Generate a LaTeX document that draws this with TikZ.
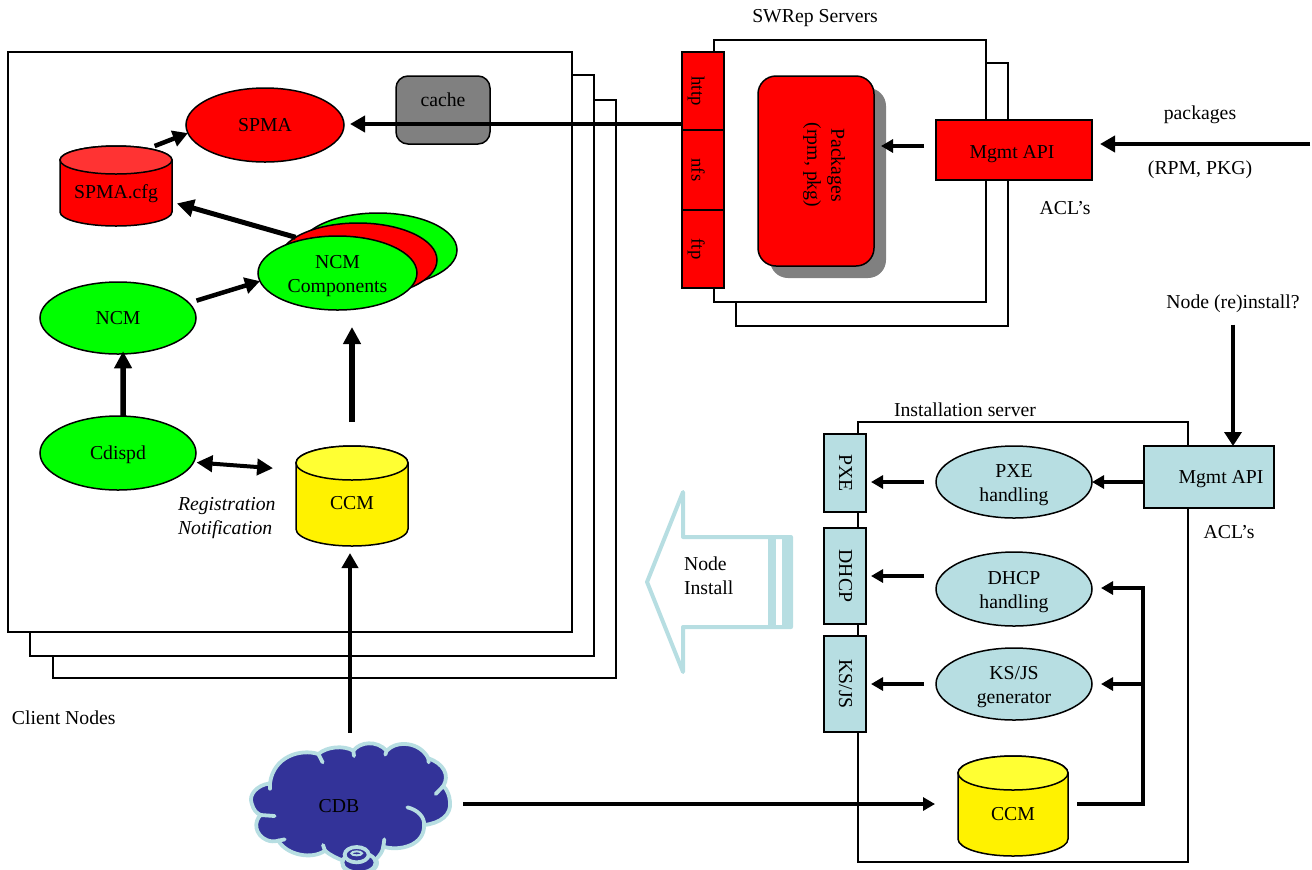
\documentclass[tikz,border=0pt]{standalone}
\usepackage{fontspec}
\setmainfont{Liberation Serif}
\usetikzlibrary{positioning, arrows.meta, calc, shapes.geometric, shadows}

\definecolor{iceblue}{HTML}{B7DEE2}
\definecolor{clouddark}{HTML}{333399}
\definecolor{cfgtop}{HTML}{FF3333}
\definecolor{cantop}{HTML}{FFFF33}

\def\raster{0.75pt}

\tikzset{
    every node/.style={font=\fontsize{14.8pt}{18pt}\selectfont, outer sep=0pt, inner sep=0pt,
        text height=11.5pt, text depth=2.5pt},
    stacktext/.style={align=center, text height=, text depth=, yshift=-2pt},
    plate/.style={draw=black, line width=1.5*\raster, fill=white},
    blob/.style={ellipse, draw=black, line width=1.5*\raster, minimum width=158*\raster, minimum height=74*\raster},
    port/.style={draw=black, line width=1.5*\raster, minimum width=42*\raster},
    panel/.style={draw=black, line width=1.5*\raster, minimum width=#1*\raster, minimum height=60*\raster},
    thin arrow/.style={line width=4*\raster, -{Triangle[length=12*\raster, width=13*\raster]}},
    mid arrow/.style={line width=4.5*\raster, -{Triangle[length=15*\raster, width=16*\raster]}},
    fat arrow/.style={line width=5.5*\raster, -{Triangle[length=17*\raster, width=17*\raster]}},
    swell/.style={draw=iceblue, line width=3.8*\raster, line cap=round},
}

\begin{document}
\begin{tikzpicture}[x=\raster, y=-\raster]
    \useasboundingbox (0,0) rectangle (1312,869);

    % client node stack
    \foreach \dx/\dy/\sheetw/\sheeth in {45/48/563/578, 22/23/564/581, 0/0/564/580}
    {
        \draw[plate] (8+\dx, 52+\dy) rectangle ++(\sheetw, \sheeth);
    }

    % swrep stack
    \draw[plate] (736, 63) rectangle (1008, 326);
    \draw[plate] (714, 40) rectangle (986, 302);

    % install server
    \draw[plate] (858, 422) rectangle (1188, 862);

    % red side
    \node[blob, fill=red] (spma) at (265,125) {SPMA};
    \node[draw=black, line width=1.5*\raster, fill=gray, rounded corners=12*\raster, minimum width=94*\raster,
        minimum height=68*\raster, label={[yshift=7.5pt]center:cache}] (cache) at (443,110) {};

    % green side
    \node[blob, fill=green] (ncmback) at (378,250) {};
    \node[blob, fill=red] (ncmred) at (358,260) {};
    \node[blob, fill=green, minimum width=159*\raster, label={[stacktext]center:NCM\\Components}] (ncmcomp) at (337.5,273) {};
    \node[blob, fill=green, minimum width=156*\raster, minimum height=72*\raster] (ncm) at (118,318) {NCM};
    \node[blob, fill=green, minimum width=156*\raster] (cdispd) at (118,453) {Cdispd};
    \node[align=left, anchor=west, text height=, text depth=, font=\fontsize{14.8pt}{18pt}\selectfont\itshape] (regnote) at (178,518) {Registration\\Notification};
    \node[anchor=west] (clientlabel) at (12,718) {Client Nodes};

    % cans
    \foreach \can/\cx/\cy/\rx/\canh/\ry/\shell/\lid/\dy/\txt in
        {spmacfg/116/186/56/80/14/red/cfgtop/6/SPMA.cfg,
         ccm/352/496/56/100/17/yellow/cantop/7/CCM,
         ccminst/1013/806/55/100/17/yellow/cantop/8/CCM}
    {
        \node[minimum width=2*\rx*\raster, minimum height=\canh*\raster] (\can) at (\cx,\cy) {};
        \draw[plate, fill=\shell] ($(\can.north west)+(0,\ry)$) -- ($(\can.south west)+(0,-\ry)$)
            arc[start angle=180, end angle=360, x radius=\rx*\raster, y radius=\ry*\raster]
            -- ($(\can.north east)+(0,\ry)$)
            arc[start angle=0, end angle=180, x radius=\rx*\raster, y radius=\ry*\raster] -- cycle;
        \draw[plate, fill=\lid] ($(\can.north)+(0,\ry)$) ellipse [x radius=\rx*\raster, y radius=\ry*\raster];
        \node (\can text) at ($(\can)+(0,\dy)$) {\txt};
    }

    % swrep
    \node (swreplabel) at (815,16) {SWRep Servers};
    \node[port, fill=red, minimum height=78*\raster] (http) at (703,91) {};
    \node[port, fill=red, minimum height=80*\raster] (nfs) at (703,170) {};
    \node[port, fill=red, minimum height=78*\raster] (ftp) at (703,249) {};
    \node[draw=black, line width=1.5*\raster, fill=red, rounded corners=18*\raster, minimum width=116*\raster,
        minimum height=190*\raster, general shadow={draw=none, fill=gray, shadow xshift=9pt, shadow yshift=-9pt}] (pkgs) at (816,171) {};
    \node[rotate=-90, align=center, text height=, text depth=] (pkgstext) at (824,165) {Packages\\(rpm, pkg)};
    \node[panel=156, fill=red, label={[xshift=-1.5pt, yshift=-1.5pt]center:Mgmt API}] (mgmtred) at (1014,150) {};
    \node (aclred) at (1065,208) {ACL’s};
    \node (pkginlabel) at (1200,113) {packages};
    \node (rpmlabel) at (1200,168) {(RPM, PKG)};
    \coordinate (pkgin) at (1310,144);
    \coordinate (httpout) at (682,124);

    % install server parts
    \node (instlabel) at (965,410) {Installation server};
    \node (reinst) at (1233,302) {Node (re)install?};
    \node[panel=130, fill=iceblue, minimum height=62*\raster, label={[xshift=9pt]center:Mgmt API}] (mgmtblue) at (1209,477) {};
    \node (aclblue) at (1229,532) {ACL’s};
    \node[port, fill=iceblue, minimum height=78*\raster] (pxe) at (845,473) {};
    \node[port, fill=iceblue, minimum height=96*\raster] (dhcp) at (845,576) {};
    \node[port, fill=iceblue, minimum height=96*\raster] (ksjs) at (845,684) {};
    \node[blob, fill=iceblue, minimum width=156*\raster, minimum height=72*\raster, label={[stacktext]center:PXE\\handling}] (pxehand) at (1014,482) {};
    \node[blob, fill=iceblue, minimum width=156*\raster, label={[stacktext]center:DHCP\\handling}] (dhcphand) at (1014,589) {};
    \node[blob, fill=iceblue, minimum width=156*\raster, minimum height=72*\raster, label={[stacktext]center:KS/JS\\generator}] (ksjsgen) at (1014,684) {};
    \coordinate (bustop) at (1143,588);
    \coordinate (busmid) at (1143,684);

    % port labels
    \foreach \portname/\txt/\off/\fs in {http/http/-4/14, nfs/nfs/-4/14, ftp/ftp/-4/14, pxe/PXE/0/14.8, dhcp/DHCP/0/14.8, ksjs/KS\slash JS/0/14.8}
    {
        \node[rotate=-90, font=\fontsize{\fs pt}{17pt}\selectfont] (\portname text) at ([xshift=\off pt]\portname.center) {\txt};
    }

    % node install arrow
    \draw[draw=iceblue, line width=4*\raster, line join=round, fill=white]
        (647,582) -- (683,492) -- (683,537) -- (791,537) -- (791,627) -- (683,627) -- (683,672) -- cycle;
    \fill[iceblue] (768,537) rectangle (776,627);
    \fill[iceblue] (782,537) rectangle (793,627);
    \node[align=left, anchor=west, text height=, text depth=] (installtext) at (684,576) {Node\\Install};

    % cloud
    \begin{scope}[shift={(240,730)}, x=\raster/3, y=-\raster/3]
        \clip (-20,-20) rectangle (700,417);
        \draw[swell, fill=clouddark]
            (90,160) .. controls (50,165) and (25,195) .. (35,220)
            .. controls (40,240) and (50,250) .. (62,255)
            .. controls (40,275) and (45,315) .. (80,330)
            .. controls (90,335) and (105,335) .. (115,332)
            .. controls (140,375) and (215,390) .. (255,362)
            .. controls (270,375) and (290,385) .. (310,392)
            .. controls (300,415) and (325,430) .. (360,430)
            .. controls (395,430) and (420,410) .. (408,388)
            .. controls (420,375) and (428,365) .. (430,350)
            .. controls (480,365) and (555,345) .. (552,285)
            .. controls (600,280) and (635,255) .. (630,215)
            .. controls (628,195) and (622,180) .. (610,168)
            .. controls (630,135) and (610,100) .. (565,85)
            .. controls (540,35) and (470,30) .. (440,62)
            .. controls (410,30) and (360,35) .. (340,62)
            .. controls (310,45) and (260,50) .. (235,72)
            .. controls (180,55) and (100,80) .. (90,160) -- cycle;
        \draw[swell] (235,72) -- (248,97);
        \draw[swell] (340,62) -- (342,78);
        \draw[swell] (440,62) -- (436,74);
        \draw[swell] (565,85) -- (566,97);
        \draw[swell] (610,168) -- (587,192);
        \draw[swell] (90,160) -- (90,176);
        \draw[swell] (62,255) -- (104,258);
        \draw[swell] (115,332) -- (134,328);
        \draw[swell] (255,362) -- (249,345);
        \draw[swell] (430,350) -- (433,328);
        \draw[swell] (502,232) .. controls (530,238) and (555,260) .. (552,285);
        \draw[swell, fill=clouddark] (357,398) ellipse (50 and 30);
        \draw[swell, fill=clouddark] (350,374) ellipse (36 and 23);
        \draw[swell, line width=2*\raster, fill=clouddark] (350,370) ellipse (16 and 6);
    \end{scope}
    \node (cdb) at (339,806) {CDB};

    % arrows on the client
    \draw[mid arrow] (spmacfg.46) -- (spma.186);
    \draw[fat arrow, line width=5*\raster, shorten >=3.75pt] (ncmred.160) -- (spmacfg.-16);
    \draw[mid arrow, shorten <=6pt] (ncm.12) -- (ncmcomp.186);
    \draw[fat arrow, shorten >=-2pt] (cdispd.82) -- (ncm.-82);
    \draw[line width=4*\raster, {Triangle[length=16*\raster, width=16*\raster]}-{Triangle[length=16*\raster, width=16*\raster]},
        shorten <=2.25pt, shorten >=17.25pt] (cdispd.-7) -- (ccm.155);
    \draw[fat arrow, shorten <=18pt, shorten >=12.75pt] (ccm.north) -- (ccm.north |- ncmcomp.south);
    \coordinate (ccmin) at ([xshift=-1.5pt]ccm.south);
    \draw[mid arrow, shorten >=5.25pt, shorten <=48pt] (cdb.north -| ccmin) -- (ccmin);
    \draw[mid arrow, shorten >=4.5pt] (httpout) -- (spma.east |- httpout);
    \coordinate (ccmport) at ([yshift=1.5pt]ccminst.center);
    \draw[thin arrow, shorten <=78pt, shorten >=17.25pt] (cdb.east |- ccmport) -- (ccmport -| ccminst.west);

    % arrows on swrep
    \draw[thin arrow, shorten <=9pt, shorten >=5.25pt] ([yshift=3pt]mgmtred.west) -- ([yshift=3pt]mgmtred.west -| pkgs.east);
    \draw[mid arrow, shorten >=6pt] (pkgin) -- (pkgin -| mgmtred.east);

    % arrows on install server
    \draw[thin arrow, -{Triangle[length=14*\raster, width=17*\raster]}, shorten <=10pt] (reinst.south) -- (reinst.south |- mgmtblue.north);
    \draw[thin arrow] (mgmtblue.west |- pxehand.east) -- (pxehand.east);
    \draw[thin arrow, shorten <=9pt, shorten >=3.75pt] (pxehand.west) -- (pxehand.west -| pxe.east);
    \draw[thin arrow, shorten <=9pt, shorten >=3.75pt] (dhcp.east -| dhcphand.west) -- (dhcp.east);
    \draw[thin arrow, shorten <=9pt, shorten >=3.75pt] (ksjsgen.west) -- (ksjs.east);
    \draw[thin arrow, shorten <=6.75pt, shorten >=6.75pt] (ccmport -| ccminst.east) -| (bustop) -- (dhcphand.east |- bustop);
    \draw[thin arrow, shorten >=6.75pt] (busmid) -- (ksjsgen.east);
\end{tikzpicture}
\end{document}
